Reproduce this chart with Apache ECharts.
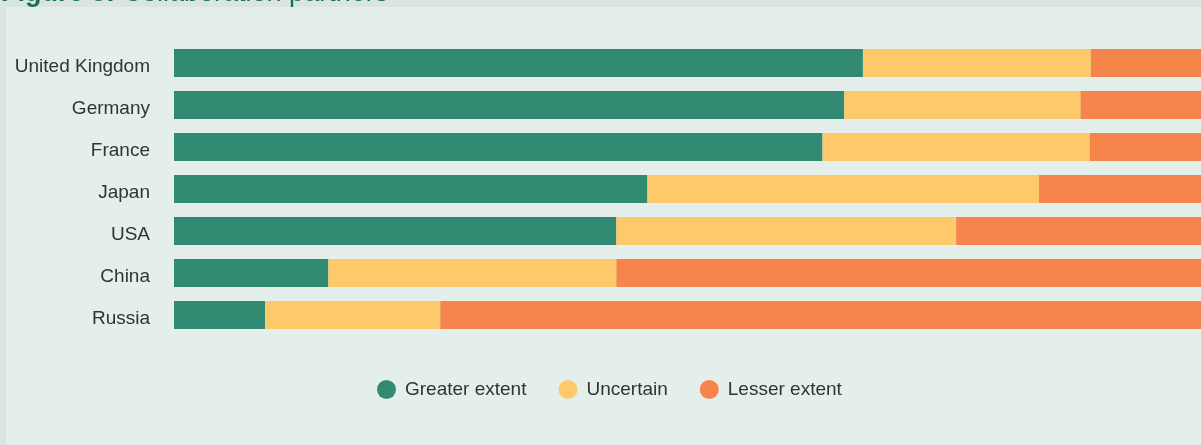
<!DOCTYPE html>
<html>
<head>
<meta charset="utf-8">
<style>
  html, body { margin: 0; padding: 0; background: #dae5e0; overflow: hidden; }
  #chart { width: 1210px; height: 445px; }
</style>
<script src="https://cdn.jsdelivr.net/npm/echarts@6/dist/echarts.min.js"></script>
</head>
<body>
<div id="chart"></div>
<script>
// Countries, top to bottom
const countries = ['United Kingdom', 'Germany', 'France', 'Japan', 'USA', 'China', 'Russia'];

// Share of respondents (%) per answer
const greaterExtent = [66.5, 64.7, 62.6, 45.7, 42.7, 14.9, 8.8];
const uncertain     = [22.0, 22.8, 25.8, 37.8, 32.8, 27.8, 16.9];
const lesserExtent  = [11.5, 12.5, 11.6, 16.5, 24.5, 57.3, 74.3];

const seriesNames = ['Greater extent', 'Uncertain', 'Lesser extent'];
const seriesColors = ['#338a72', '#fdc96a', '#f5854a'];

const chart = echarts.init(document.getElementById('chart'), null, { renderer: 'canvas' });

const makeSeries = (name, data, color) => ({
  name: name,
  type: 'bar',
  stack: 'share',
  data: data,
  barWidth: 28,
  itemStyle: { color: color },
  emphasis: { disabled: true },
  animation: false
});

chart.setOption({
  backgroundColor: '#dae5e0',
  animation: false,
  graphic: [
    {
      type: 'rect',
      z: -10,
      shape: { x: 6, y: 7, width: 1210, height: 445 },
      style: { fill: '#e4eeeb' }
    },
    {
      type: 'text',
      x: 1,
      y: 7,
      style: {
        text: '{b|Figure 8:} Collaboration partners',
        verticalAlign: 'bottom',
        fill: '#15704f',
        font: '27px "Liberation Sans", Arial, sans-serif',
        rich: {
          b: { fontWeight: 'bold', fontSize: 27, fill: '#15704f', fontFamily: '"Liberation Sans", Arial, sans-serif' }
        }
      }
    }
  ],
  grid: { left: 174, right: 0, top: 42, bottom: 109, containLabel: false },
  xAxis: {
    type: 'value',
    min: 0,
    max: 100,
    show: false
  },
  yAxis: {
    type: 'category',
    data: countries,
    inverse: true,
    axisLine: { show: false },
    axisTick: { show: false },
    splitLine: { show: false },
    axisLabel: {
      margin: 24,
      // labels sit slightly below the bar centre
      verticalAlign: 'top',
      lineHeight: 7,
      color: '#333333',
      fontSize: 19,
      fontFamily: '"Liberation Sans", Arial, sans-serif'
    }
  },
  legend: {
    left: 372,
    top: 375,
    icon: 'circle',
    itemWidth: 27,
    itemHeight: 19,
    itemGap: 32,
    selectedMode: false,
    textStyle: {
      color: '#333333',
      fontSize: 19,
      fontFamily: '"Liberation Sans", Arial, sans-serif'
    },
    data: seriesNames
  },
  series: [
    makeSeries(seriesNames[0], greaterExtent, seriesColors[0]),
    makeSeries(seriesNames[1], uncertain, seriesColors[1]),
    makeSeries(seriesNames[2], lesserExtent, seriesColors[2])
  ]
});
</script>
</body>
</html>
